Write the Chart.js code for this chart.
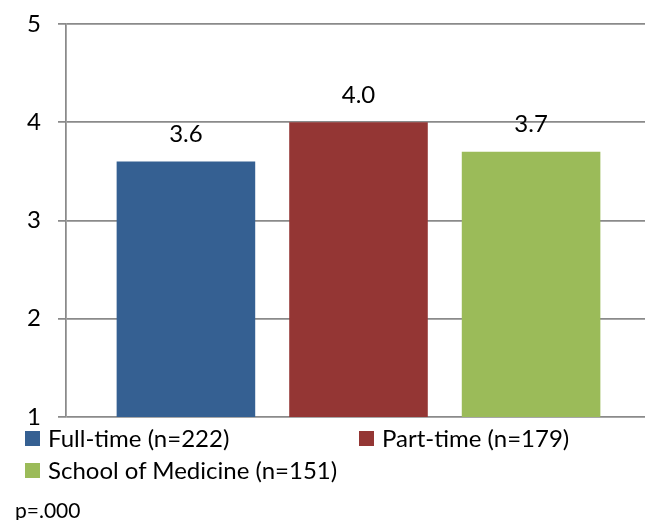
<!DOCTYPE html>
<html>
<head>
<meta charset="utf-8">
<script src="https://cdn.jsdelivr.net/npm/chart.js@4/dist/chart.umd.min.js"></script>
<style>
  html, body { margin: 0; padding: 0; background: #fff; overflow: hidden; }
  #wrap { position: relative; width: 651px; height: 520px; }
  #chart { position: absolute; left: 0; top: 0; }
  .lg { position: absolute; display: flex; align-items: center; font-family: Lato, "Open Sans", sans-serif; font-size: 24px; color: #000; white-space: nowrap; line-height: 1; }
  .lg span.box { width: 15px; height: 15px; margin-right: 8px; display: inline-block; }
  #note { position: absolute; left: 15px; top: 499px; font-family: Lato, "Open Sans", sans-serif; font-size: 21px; color: #000; line-height: 1; }
</style>
</head>
<body>
<div id="wrap">
  <canvas id="chart" width="651" height="520"></canvas>
  <div id="legend"></div>
  <div id="note">p=.000</div>
</div>
<script>
// Mean ratings by group
const groups = ['Full-time (n=222)', 'Part-time (n=179)', 'School of Medicine (n=151)'];
const means = [3.6, 4.0, 3.7];
const groupColors = ['#356092', '#943634', '#9BBB59'];
const yTicks = [1, 2, 3, 4, 5];

const FONT = 'Lato, "Open Sans", sans-serif';
const GRID = '#8a8a8a';

// Value labels above each bar
const valueLabels = {
  id: 'valueLabels',
  afterDatasetsDraw(chart) {
    const ctx = chart.ctx;
    ctx.save();
    ctx.font = '24px ' + FONT;
    ctx.fillStyle = '#000';
    ctx.textAlign = 'center';
    ctx.textBaseline = 'middle';
    chart.data.datasets.forEach((ds, i) => {
      const bar = chart.getDatasetMeta(i).data[0];
      ctx.fillText(ds.data[0].toFixed(1), bar.x, bar.y - 27);
    });
    ctx.restore();
  }
};

const chart = new Chart(document.getElementById('chart'), {
  type: 'bar',
  data: {
    labels: [''],
    datasets: groups.map((g, i) => ({
      label: g,
      data: [means[i]],
      backgroundColor: groupColors[i],
      borderWidth: 0,
      categoryPercentage: 0.885,
      barPercentage: 0.803
    }))
  },
  options: {
    responsive: false,
    animation: false,
    events: [],
    layout: { padding: { top: 24, bottom: 103, left: 0, right: 0 } },
    plugins: { legend: { display: false }, tooltip: { enabled: false } },
    scales: {
      x: { display: false },
      y: {
        min: yTicks[0],
        max: yTicks[yTicks.length - 1],
        afterBuildTicks(scale) { scale.ticks = yTicks.map(v => ({ value: v })); },
        afterFit(scale) { scale.width = 66; scale.paddingTop = 0; scale.paddingBottom = 0; },
        ticks: { font: { family: FONT, size: 24 }, color: '#000', padding: 17 },
        grid: { color: GRID, lineWidth: 1.75, tickLength: 8, drawTicks: true },
        border: { color: GRID, width: 1.75 }
      }
    }
  },
  plugins: [valueLabels]
});

// Two-column legend under the plot
const legendSlots = [[25, 438], [359, 438], [25, 470]];
const legendEl = document.getElementById('legend');
groups.forEach((g, i) => {
  const item = document.createElement('div');
  item.className = 'lg';
  item.style.left = legendSlots[i][0] + 'px';
  item.style.top = (legendSlots[i][1] - 12) + 'px';
  item.style.height = '24px';
  const box = document.createElement('span');
  box.className = 'box';
  box.style.background = groupColors[i];
  item.appendChild(box);
  item.appendChild(document.createTextNode(g));
  legendEl.appendChild(item);
});
</script>
</body>
</html>
